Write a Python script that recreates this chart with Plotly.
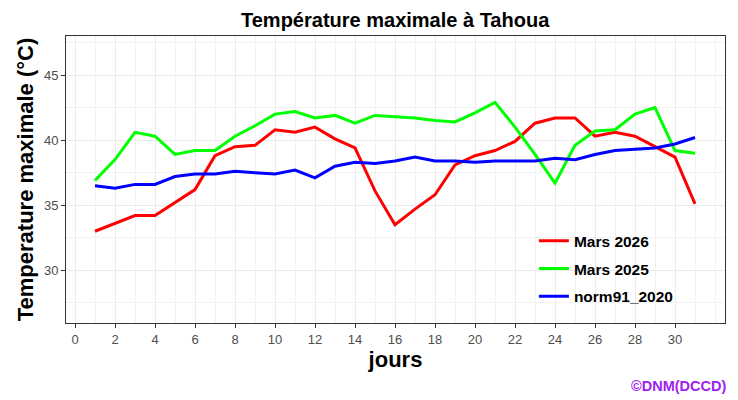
import plotly.graph_objects as go

jours = list(range(1, 32))

mars_2026 = [33.0, 33.6, 34.2, 34.2, 35.2, 36.2, 38.8, 39.5, 39.6, 40.8,
             40.6, 41.0, 40.1, 39.4, 36.1, 33.5, 34.7, 35.8, 38.1, 38.8,
             39.2, 39.9, 41.3, 41.7, 41.7, 40.3, 40.6, 40.3, 39.5, 38.7,
             35.1]
mars_2025 = [36.9, 38.5, 40.6, 40.3, 38.9, 39.2, 39.2, 40.3, 41.1, 42.0,
             42.2, 41.7, 41.9, 41.3, 41.9, 41.8, 41.7, 41.5, 41.4, 42.1,
             42.9, 41.0, 38.9, 36.7, 39.6, 40.7, 40.8, 42.0, 42.5, 39.2,
             39.0]
norm91_2020 = [36.5, 36.3, 36.6, 36.6, 37.2, 37.4, 37.4, 37.6, 37.5, 37.4,
               37.7, 37.1, 38.0, 38.3, 38.2, 38.4, 38.7, 38.4, 38.4, 38.3,
               38.4, 38.4, 38.4, 38.6, 38.5, 38.9, 39.2, 39.3, 39.4, 39.7,
               40.2]

series = [("Mars 2026", mars_2026, "#FF0000"),
          ("Mars 2025", mars_2025, "#00FF00"),
          ("norm91_2020", norm91_2020, "#0000FF")]

x_ticks = list(range(0, 31, 2))
y_ticks = [30, 35, 40, 45]

font = "Arial, Liberation Sans, sans-serif"

fig = go.Figure()
for name, vals, col in series:
    fig.add_trace(go.Scatter(x=jours, y=vals, name="<b>" + name + "</b>",
                             mode="lines", legendgroup=name,
                             line=dict(color=col, width=3)))

axis_common = dict(
    showline=True, mirror=True, linecolor="#333333", linewidth=1,
    ticks="outside", ticklen=4, tickcolor="#333333",
    tickfont=dict(family=font, size=13, color="#4D4D4D"),
    showgrid=True, gridcolor="#EBEBEB", gridwidth=1, zeroline=False,
    automargin=False,
)

# page body has an 8px margin, so the figure is 8px smaller
fig.update_layout(
    width=730, height=392,
    paper_bgcolor="white", plot_bgcolor="white",
    margin=dict(l=58, r=13, t=28, b=77),
    font=dict(family=font),
    xaxis=dict(range=[-0.45, 32.5], tickvals=x_ticks,
               title=dict(text="<b>jours</b>", standoff=2,
                          font=dict(family=font, size=22, color="black")),
               minor=dict(dtick=1, tick0=0, showgrid=True,
                          gridcolor="#F2F2F2", gridwidth=1, ticks=""),
               **axis_common),
    yaxis=dict(range=[25.95, 48.0], tickvals=y_ticks,
               title=dict(text="<b>Temperature maximale (°C)</b>", standoff=4,
                          font=dict(family=font, size=22, color="black")),
               minor=dict(dtick=2.5, tick0=0, showgrid=True,
                          gridcolor="#F2F2F2", gridwidth=1, ticks=""),
               **axis_common),
    legend=dict(x=0.710, y=0.344, xanchor="left", yanchor="top",
                bgcolor="rgba(0,0,0,0)", borderwidth=0,
                tracegroupgap=4.5,
                font=dict(family=font, size=15.5, color="black"),
                itemwidth=30),
    showlegend=True,
)

# title as an annotation so it sits fully inside the page
fig.add_annotation(text="<b>Température maximale à Tahoua</b>",
                   xref="paper", yref="paper", x=0.5, y=1.055,
                   xanchor="center", yanchor="middle", showarrow=False,
                   font=dict(family=font, size=20, color="black"))

# white legend box over the grid
fig.add_shape(type="rect", xref="paper", yref="paper",
              x0=0.701, x1=0.936, y0=0.012, y1=0.453,
              fillcolor="white", line=dict(width=0), layer="below")

fig.add_annotation(text="<b>©DNM(DCCD)</b>", xref="paper", yref="paper",
                   x=1.004, y=-0.22, xanchor="right", yanchor="middle",
                   showarrow=False,
                   font=dict(family=font, size=14.5, color="#A020F0"))

fig.write_html("out.html")
